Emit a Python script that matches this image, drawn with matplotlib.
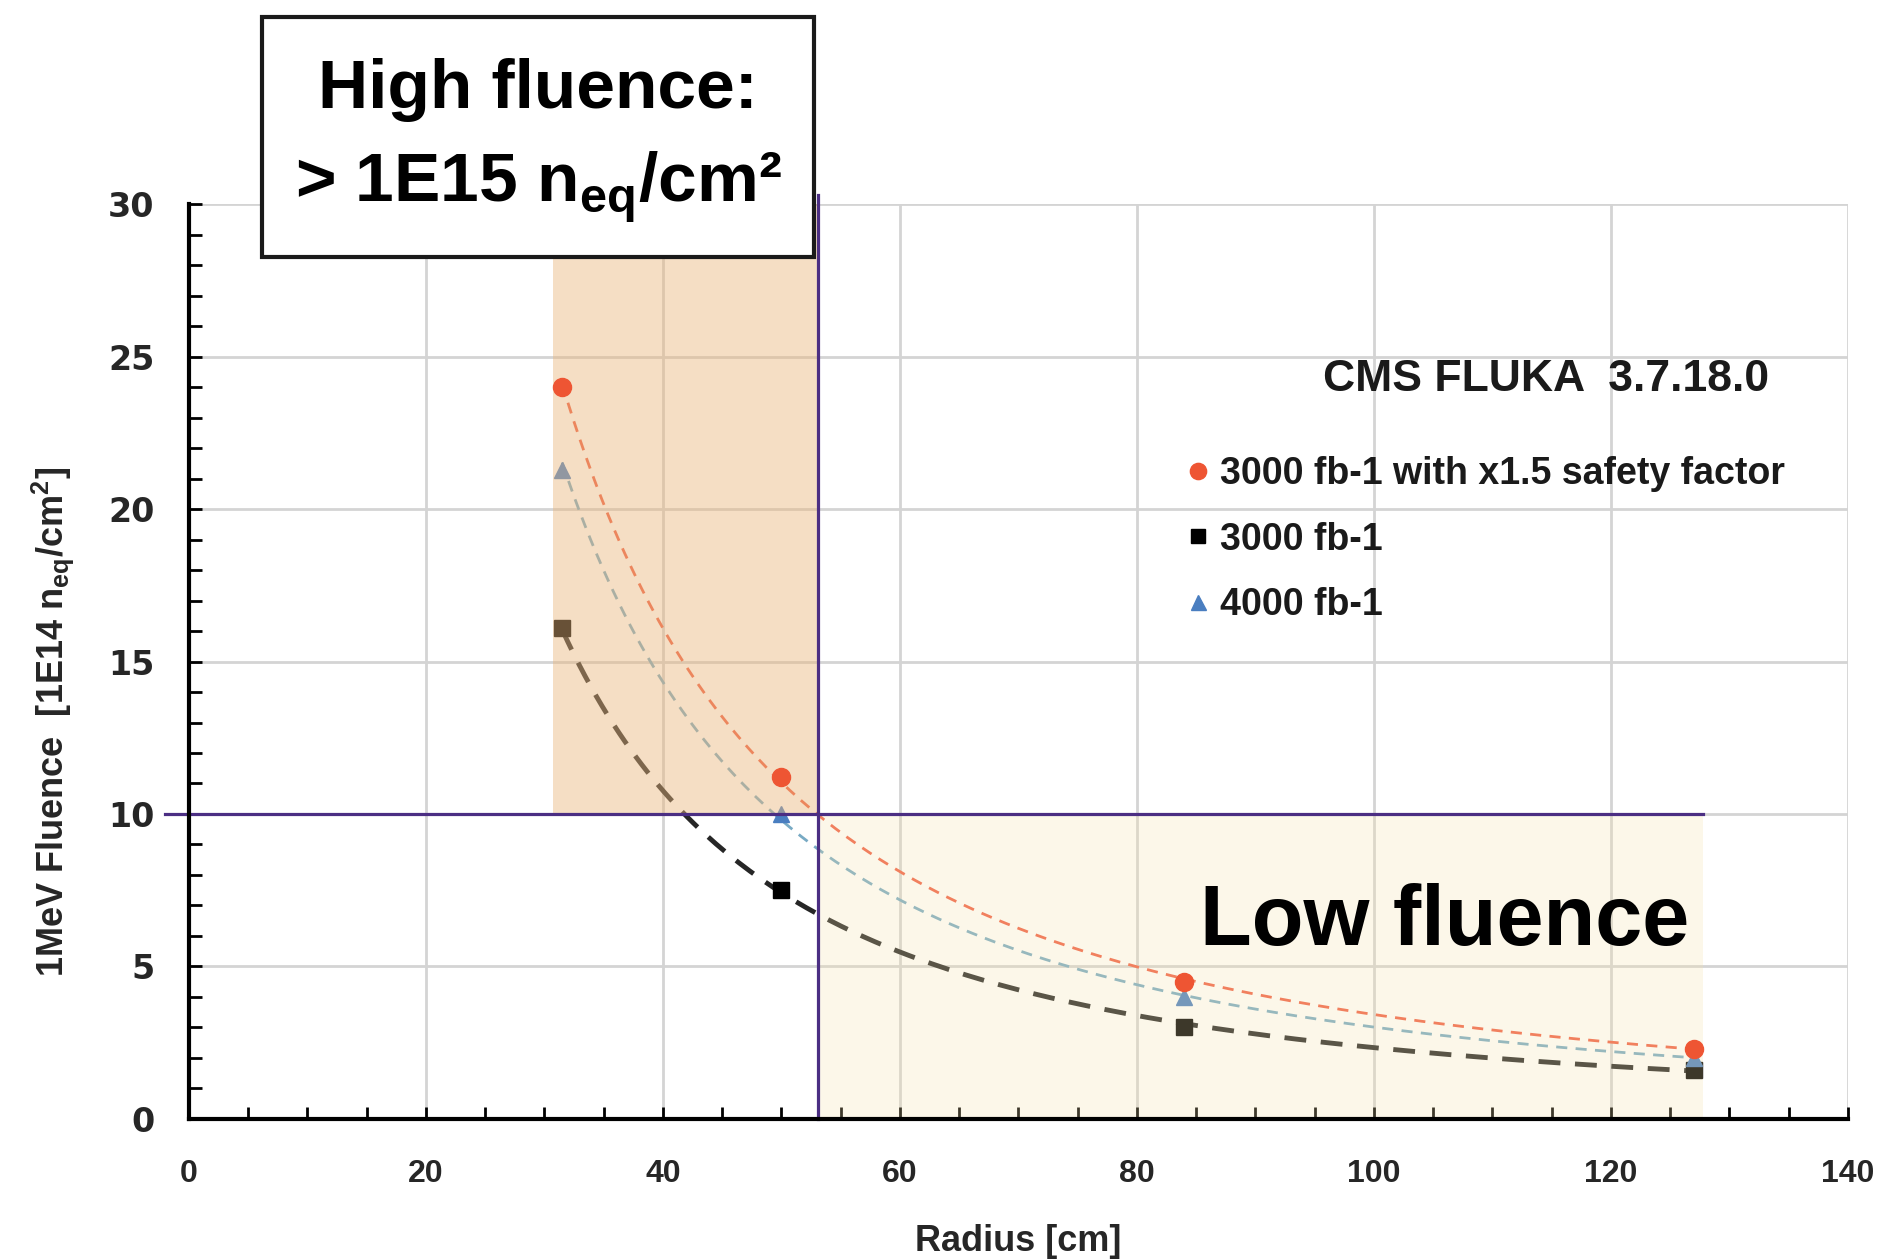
import numpy as np
import matplotlib.pyplot as plt
from matplotlib.patches import Rectangle
from matplotlib.ticker import MultipleLocator

plt.rcParams['font.family'] = ['Liberation Sans', 'DejaVu Sans']

# === Data ===
radius = [31.5, 50, 84, 127]
fluence_safety = [24.0, 11.2, 4.5, 2.3]   # 3000 fb-1 x1.5
fluence_3000 = [16.1, 7.5, 3.0, 1.6]
fluence_4000 = [21.3, 10.0, 4.0, 2.0]
labels = ["3000 fb-1 with x1.5 safety factor", "3000 fb-1", "4000 fb-1"]

high_zone_r = [30.7, 53.1]
low_zone_r = [53.1, 127.8]
threshold = 10


def power_fit(x, y):
    # Excel style power trendline y = a * x^b
    b, lna = np.polyfit(np.log(x), np.log(y), 1)
    xs = np.linspace(min(x), max(x), 200)
    return xs, np.exp(lna) * xs ** b


fig = plt.figure(figsize=(18.86, 12.6), dpi=100)
ax = fig.add_axes([0.1002, 0.1122, 0.8796, 0.7255])
ax.set_xlim(0, 140)
ax.set_ylim(0, 30)

# grid + ticks
ax.set_axisbelow(True)
ax.grid(True, which='major', color='#d4d4d4', linewidth=2.0)
ax.xaxis.set_major_locator(MultipleLocator(20))
ax.xaxis.set_minor_locator(MultipleLocator(5))
ax.yaxis.set_major_locator(MultipleLocator(5))
ax.yaxis.set_minor_locator(MultipleLocator(1))
ax.tick_params(which='both', direction='in', length=9, width=2, color='black')
ax.tick_params(axis='x', which='major', pad=29, labelsize=23, labelcolor='#262626')
ax.tick_params(axis='y', which='major', pad=25, labelsize=24, labelcolor='#262626')
for lbl in ax.get_yticklabels():
    lbl.set_fontfamily('DejaVu Sans')
    lbl.set_fontweight('bold')
for lbl in ax.get_xticklabels():
    lbl.set_fontweight('bold')

for s in ['top', 'right']:
    ax.spines[s].set_visible(False)
for s in ['left', 'bottom']:
    ax.spines[s].set_linewidth(3)
    ax.spines[s].set_zorder(5)

# fitted trend lines
xs, ys = power_fit(radius, fluence_safety)
ax.plot(xs, ys, color='#ef5f45', lw=2.0, ls=(0, (4, 3)), zorder=2)
xs, ys = power_fit(radius, fluence_4000)
ax.plot(xs, ys, color='#78aac4', lw=2.0, ls=(0, (4, 3)), zorder=2)
xs, ys = power_fit(radius, fluence_3000)
ax.plot(xs, ys, color='#262626', lw=3.5, ls=(0, (4.5, 3)), zorder=2)

# markers
h_red, = ax.plot(radius, fluence_safety, 'o', color='#ee5533', ms=13, zorder=3.5)
h_blk, = ax.plot(radius, fluence_3000, 's', color='black', ms=11, zorder=2.2)
h_blu, = ax.plot(radius, fluence_4000, '^', color='#4a7ec0', ms=12, zorder=2.2)

# shaded fluence regions
ax.fill_between(high_zone_r, threshold, 30, color='#e9b67c', alpha=0.45, lw=0, zorder=3)
ax.fill_between(low_zone_r, 0, threshold, color='#f7e3ab', alpha=0.25, lw=0, zorder=3)

# threshold lines
ax.plot([-2, low_zone_r[1]], [threshold, threshold], color='#4b2e83', lw=2.3,
        clip_on=False, zorder=4)
ax.plot([high_zone_r[1]] * 2, [0, 30.3], color='#4b2e83', lw=2.3,
        clip_on=False, zorder=4)

# labels
ax.set_xlabel("Radius [cm]", fontsize=26, fontweight='bold', color='#262626')
ax.xaxis.set_label_coords(0.5, -0.115)
ax.set_ylabel(r"1MeV Fluence  [1E14 n$_\mathregular{eq}$/cm$^\mathregular{2}$]",
              fontsize=26, fontweight='bold', color='#262626')
ax.yaxis.set_label_coords(-0.068, 0.434)

ax.text(0.818, 0.809, "CMS FLUKA  3.7.18.0", transform=ax.transAxes,
        ha='center', va='center', fontsize=32, fontweight='bold', color='#1a1a1a', zorder=6)
ax.text(0.757, 0.214, "Low fluence", transform=ax.transAxes,
        ha='center', va='center', fontsize=61, fontweight='bold', color='black', zorder=6)

leg = ax.legend([h_red, h_blk, h_blu], labels, loc='upper left',
                bbox_to_anchor=(0.59, 0.745), frameon=False,
                prop={'weight': 'bold', 'size': 27}, handlelength=0.6,
                handletextpad=0.3, labelspacing=0.78, markerscale=0.9, borderpad=0)
for t in leg.get_texts():
    t.set_color('#1a1a1a')
leg.set_zorder(6)

# high fluence box
fig.patches.append(Rectangle((0.1389, 0.796), 0.2927, 0.1905, transform=fig.transFigure,
                             facecolor='white', edgecolor='#1a1a1a', lw=3, zorder=10))
fig.text(0.2853, 0.9286, "High fluence:", ha='center', va='center',
         fontsize=50, fontweight='bold', zorder=11)
fig.text(0.2853, 0.8516, r"> 1E15 n$_\mathregular{eq}$/cm²", ha='center', va='center',
         fontsize=50, fontweight='bold', zorder=11)

fig.savefig("out.png", dpi=100)
